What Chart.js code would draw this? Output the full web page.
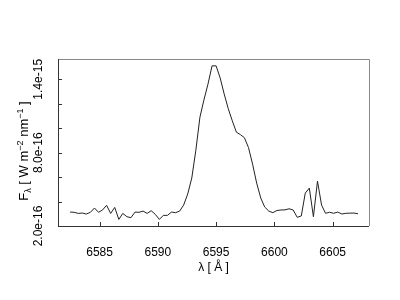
<!DOCTYPE html>
<html>
<head>
<meta charset="utf-8">
<script src="https://cdn.jsdelivr.net/npm/chart.js@4"></script>
<style>
  html, body { margin: 0; padding: 0; background: #fff; }
</style>
</head>
<body>
<canvas id="spec" width="400" height="300"></canvas>
<script>
// wavelength in Angstrom
const wavelength = [
  6582.47, 6582.82, 6583.17, 6583.51, 6583.86, 6584.21, 6584.56, 6584.91, 6585.25, 6585.60,
  6585.95, 6586.30, 6586.65, 6586.99, 6587.34, 6587.69, 6588.04, 6588.39, 6588.73, 6589.08,
  6589.43, 6589.78, 6590.13, 6590.47, 6590.82, 6591.17, 6591.52, 6591.87, 6592.21, 6592.56,
  6592.91, 6593.26, 6593.61, 6593.95, 6594.30, 6594.65, 6595.00, 6595.35, 6595.69, 6596.04,
  6596.39, 6596.74, 6597.09, 6597.43, 6597.78, 6598.13, 6598.48, 6598.83, 6599.17, 6599.52,
  6599.87, 6600.22, 6600.57, 6600.91, 6601.26, 6601.61, 6601.96, 6602.31, 6602.65, 6603.00,
  6603.35, 6603.70, 6604.05, 6604.39, 6604.74, 6605.09, 6605.44, 6605.79, 6606.13, 6606.48,
  6606.83, 6607.18
]
// flux in W m-2 nm-1
const flux = [
  3.14e-16, 3.12e-16, 3.03e-16, 3.06e-16, 2.98e-16, 3.12e-16, 3.47e-16, 3.12e-16, 3.31e-16, 3.69e-16,
  3.03e-16, 3.52e-16, 2.54e-16, 3.03e-16, 2.76e-16, 2.68e-16, 3.14e-16, 3.12e-16, 3.22e-16, 3.03e-16,
  3.25e-16, 2.95e-16, 2.54e-16, 2.87e-16, 2.87e-16, 3.14e-16, 3.09e-16, 3.22e-16, 3.71e-16, 4.61e-16,
  5.92e-16, 8.20e-16, 10.9e-16, 12.3e-16, 13.6e-16, 15.1e-16, 15.1e-16, 14.1e-16, 12.8e-16, 11.6e-16,
  10.6e-16, 9.67e-16, 9.47e-16, 9.22e-16, 8.41e-16, 7.06e-16, 5.51e-16, 4.29e-16, 3.55e-16, 3.22e-16,
  3.09e-16, 3.27e-16, 3.31e-16, 3.32e-16, 3.41e-16, 3.31e-16, 2.71e-16, 2.82e-16, 4.69e-16, 5.10e-16,
  2.76e-16, 5.67e-16, 3.71e-16, 3.04e-16, 3.12e-16, 3.04e-16, 3.14e-16, 2.98e-16, 3.04e-16, 3.05e-16,
  3.06e-16, 3.00e-16
]

const xTicks = [6585, 6590, 6595, 6600, 6605]
const yTicks = [2e-16, 4e-16, 6e-16, 8e-16, 1e-15, 1.2e-15, 1.4e-15]
const yLabelled = [2e-16, 8e-16, 1.4e-15]

const FONT = 'Liberation Sans, Arial, Helvetica, sans-serif'

// box, inward ticks, y labels and y title
const framePlugin = {
  id: 'frame',
  afterDatasetsDraw(chart) {
    const {ctx, chartArea: a, scales: {x, y}} = chart
    ctx.save()
    ctx.lineWidth = 1
    ctx.strokeStyle = '#888'
    ctx.beginPath()
    ctx.moveTo(a.left, a.top + 0.5)
    ctx.lineTo(a.right + 0.5, a.top + 0.5)
    ctx.lineTo(a.right + 0.5, a.bottom)
    ctx.stroke()

    ctx.strokeStyle = '#333'
    ctx.beginPath()
    ctx.moveTo(a.left + 0.5, a.top)
    ctx.lineTo(a.left + 0.5, a.bottom + 0.5)
    ctx.lineTo(a.right, a.bottom + 0.5)
    x.ticks.forEach(t => {
      const px = Math.round(x.getPixelForValue(t.value)) + 0.5
      ctx.moveTo(px, a.bottom)
      ctx.lineTo(px, a.bottom - 4)
    })
    y.ticks.forEach(t => {
      const py = Math.round(y.getPixelForValue(t.value)) + 0.5
      ctx.moveTo(a.left, py)
      ctx.lineTo(a.left + 4, py)
    })
    ctx.stroke()

    // y tick labels, rotated
    ctx.fillStyle = '#000'
    ctx.font = '12px ' + FONT
    ctx.textAlign = 'center'
    ctx.textBaseline = 'alphabetic'
    yLabelled.forEach(v => {
      ctx.save()
      ctx.translate(42, y.getPixelForValue(v))
      ctx.rotate(-Math.PI / 2)
      ctx.fillText(v.toExponential(1), 0, 0)
      ctx.restore()
    })

    // y title  F_lambda [ W m^-2 nm^-1 ]
    const parts = [
      {t: 'F', size: 13, dy: 0},
      {t: 'λ', size: 9, dy: 3},
      {t: ' [ W m', size: 13, dy: 0},
      {t: '−2', size: 9, dy: -5},
      {t: ' nm', size: 13, dy: 0},
      {t: '−1', size: 9, dy: -5},
      {t: ' ]', size: 13, dy: 0}
    ]
    let total = 0
    parts.forEach(p => {
      ctx.font = p.size + 'px ' + FONT
      p.w = ctx.measureText(p.t).width
      total += p.w
    })
    ctx.translate(28, 151)
    ctx.rotate(-Math.PI / 2)
    ctx.textAlign = 'left'
    let cx = -total / 2
    parts.forEach(p => {
      ctx.font = p.size + 'px ' + FONT
      ctx.fillText(p.t, cx, p.dy)
      cx += p.w
    })
    ctx.restore()
  }
}

new Chart(document.getElementById('spec'), {
  type: 'line',
  data: {
    datasets: [{
      data: wavelength.map((w, i) => ({x: w, y: flux[i]})),
      borderColor: '#222',
      borderWidth: 1,
      pointRadius: 0,
      tension: 0,
      fill: false
    }]
  },
  options: {
    responsive: false,
    devicePixelRatio: 1,
    animation: false,
    layout: {padding: {top: 59, right: 31, left: 0, bottom: 0}},
    plugins: {legend: {display: false}, tooltip: {enabled: false}},
    scales: {
      x: {
        type: 'linear',
        min: 6581.43,
        max: 6608.12,
        grid: {display: false, drawTicks: false},
        border: {display: false},
        afterBuildTicks: s => { s.ticks = xTicks.map(v => ({value: v})) },
        afterFit: s => { s.height = 74 },
        ticks: {
          color: '#000',
          font: {family: FONT, size: 12},
          padding: 19,
          maxRotation: 0,
          callback: v => String(v)
        },
        title: {
          display: true,
          text: 'λ [ Å ]',
          color: '#000',
          font: {family: FONT, size: 12},
          padding: {top: 0, bottom: 25}
        }
      },
      y: {
        min: 2e-16,
        max: 1.566e-15,
        grid: {display: false, drawTicks: false},
        border: {display: false},
        afterBuildTicks: s => { s.ticks = yTicks.map(v => ({value: v})) },
        afterFit: s => { s.width = 58 },
        ticks: {display: false}
      }
    }
  },
  plugins: [framePlugin]
})
</script>
</body>
</html>
